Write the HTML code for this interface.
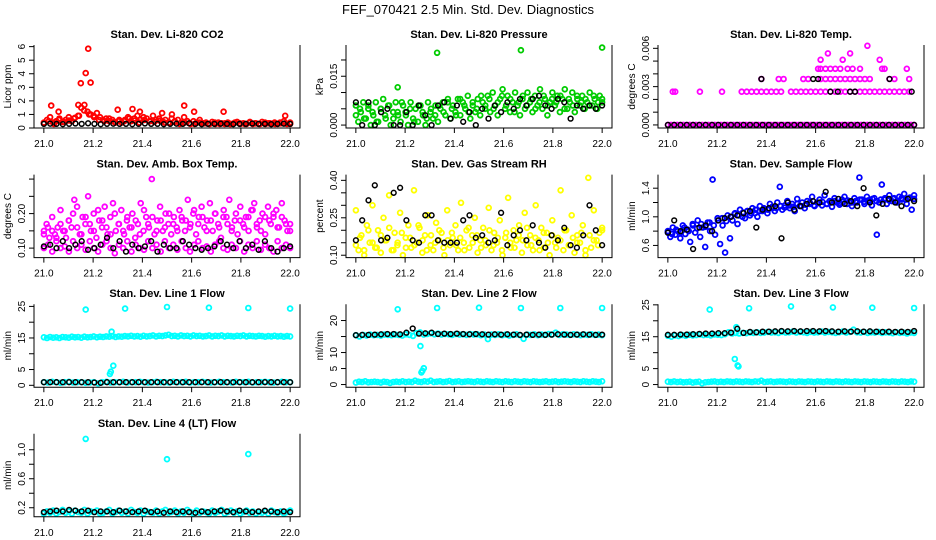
<!DOCTYPE html>
<html><head><meta charset="utf-8">
<style>
html,body{margin:0;padding:0;background:#fff;}
svg{display:block;font-family:"Liberation Sans",sans-serif;}
</style></head>
<body>
<svg id="chart" width="936" height="540" viewBox="0 0 936 540" xmlns="http://www.w3.org/2000/svg">
<text x="468" y="14" font-size="13" text-anchor="middle">FEF_070421  2.5 Min. Std. Dev. Diagnostics</text>
</svg>
<script>
// ---------- data ----------
const xTicks = [21.0,21.2,21.4,21.6,21.8,22.0];
const xTickLabels = ["21.0","21.2","21.4","21.6","21.8","22.0"];

const co2Red = [0.35,0.6,0.8,0.4,0.5,0.7,0.45,0.6,0.8,0.5,0.75,0.9,1.5,1.7,1.2,1.0,0.9,1.1,0.8,0.6,0.7,0.5,0.6,0.4,0.5,0.4,0.6,0.8,0.5,0.7,0.9,0.6,0.8,0.7,0.5,0.9,0.6,0.7,0.5,0.6,0.4,0.7,0.5,0.6,0.4,0.8,0.5,0.3,0.5,0.4,0.6,0.35,0.4,0.3,0.45,0.3,0.4,0.35,0.3,0.4,0.3,0.35,0.45,0.3,0.35,0.3,0.4,0.3,0.35,0.3,0.45,0.3,0.35,0.3,0.4,0.3,0.35,0.5,0.3,0.4];
const co2Red2 = [0.4,0.5,0.3,0.6,0.45,0.55,0.7,0.9,1.3,1.0,0.8,0.6,0.5,0.7,0.45,0.6,0.5,0.7,0.55,0.4,0.6,0.5,0.45,0.55,0.4,0.35,0.45,0.3,0.4,0.35,0.3,0.4,0.35,0.3,0.4,0.3,0.35,0.3,0.4,0.35,0.3,0.45,0.35,0.3,0.4,0.35,0.3,0.4,0.35,0.3];
const co2Black = [0.3,0.32,0.3,0.28,0.3,0.33,0.3,0.35,0.3,0.28,0.3,0.32,0.3,0.3,0.28,0.3,0.33,0.3,0.3,0.28,0.3,0.32,0.3,0.35,0.3,0.28,0.3,0.3,0.32,0.3,0.28,0.3,0.3,0.33,0.3,0.3,0.28,0.3,0.32,0.3];
const co2OutX = [21.03,21.06,21.14,21.15,21.17,21.18,21.19,21.30,21.36,21.39,21.48,21.52,21.57,21.61,21.73,21.98];
const co2OutY = [1.65,1.2,1.7,3.3,4.05,5.85,3.35,1.35,1.4,1.2,1.1,1.0,1.65,1.2,1.2,0.9];
const co2Ticks = [0,1,2,3,4,5,6];
const co2Labels = ["0","1","2","3","4","5","6"];

const presGreen = [0.006,0.001,0.004,0.007,0.002,0.005,0.000,0.003,0.007,0.001,0.005,0.008,0.002,0.006,0.000,0.004,0.007,0.003,0.001,0.006,0.004,0.000,0.007,0.002,0.005,0.001,0.006,0.003,0.000,0.007,0.004,0.002,0.006,0.001,0.005,0.007,0.003,0.008,0.002,0.006,0.004,0.008,0.003,0.007,0.005,0.009,0.002,0.006,0.004,0.008,0.003,0.007,0.005,0.009,0.004,0.010,0.006,0.003,0.008,0.011,0.005,0.009,0.004,0.007,0.010,0.006,0.003,0.008,0.005,0.010,0.007,0.004,0.009,0.006,0.011,0.005,0.008,0.003,0.007,0.010,0.006,0.009,0.004,0.008,0.011,0.005,0.007,0.010,0.004,0.008,0.006,0.009,0.005,0.007,0.010,0.006,0.008,0.005,0.009,0.007];
const presGreen2 = [0.003,0.005,0.002,0.006,0.004,0.001,0.005,0.003,0.006,0.002,0.004,0.007,0.003,0.005,0.001,0.006,0.004,0.002,0.005,0.003,0.006,0.004,0.007,0.005,0.003,0.008,0.006,0.004,0.007,0.005,0.009,0.006,0.008,0.005,0.007,0.009,0.006,0.008,0.004,0.007,0.009,0.006,0.008,0.005,0.007,0.009,0.006,0.008,0.007,0.009,0.005,0.008,0.006,0.009,0.007,0.008,0.006,0.009,0.007,0.008];
const presBlack = [0.007,0.000,0.007,0.000,0.004,0.005,0.000,0.000,0.004,0.000,0.006,0.003,0.000,0.006,0.007,0.002,0.006,0.001,0.004,0.000,0.005,0.002,0.006,0.004,0.007,0.005,0.008,0.006,0.008,0.009,0.006,0.005,0.008,0.007,0.002,0.006,0.005,0.006,0.005,0.006];
const presOutX = [21.17,21.33,21.67,22.0];
const presOutY = [0.0116,0.0222,0.023,0.0238];
const presTicks = [0,0.005,0.01,0.015,0.02];
const presLabels = ["0.000","","","0.015",""];

const tempPinkBase = [0,0,0,0,0,0,0,0,0,0,0,0,0,0,0,0,0,0,0,0,0,0,0,0,0,0,0,0,0,0,0,0,0,0,0,0,0,0,0,0,0,0,0,0,0,0,0,0,0,0,0,0,0,0,0,0,0,0,0,0,0,0,0,0,0,0,0,0,0,0,0,0,0,0,0,0,0,0,0,0];
const tempUpX = [21.02,21.03,21.13,21.22,21.30,21.32,21.34,21.36,21.38,21.40,21.42,21.44,21.46,21.50,21.52,21.54,21.56,21.58,21.60,21.62,21.64,21.66,21.68,21.70,21.72,21.74,21.76,21.78,21.80,21.82,21.84,21.86,21.88,21.90,21.92,21.94,21.96,21.98,
 21.38,21.45,21.47,21.55,21.57,21.62,21.64,21.66,21.68,21.70,21.72,21.74,21.76,21.78,21.80,21.82,21.90,21.92,21.98,
 21.61,21.62,21.64,21.66,21.68,21.70,21.73,21.75,21.78,21.87,21.88,21.97,
 21.62,21.71,21.86,21.65,21.74,21.81];
const tempUpY = [0.0026,0.0026,0.0026,0.0026,0.0026,0.0026,0.0026,0.0026,0.0026,0.0026,0.0026,0.0026,0.0026,0.0026,0.0026,0.0026,0.0026,0.0026,0.0026,0.0026,0.0026,0.0026,0.0026,0.0026,0.0026,0.0026,0.0026,0.0026,0.0026,0.0026,0.0026,0.0026,0.0026,0.0026,0.0026,0.0026,0.0026,0.0026,
 0.0036,0.0036,0.0036,0.0036,0.0036,0.0036,0.0036,0.0036,0.0036,0.0036,0.0036,0.0036,0.0036,0.0036,0.0036,0.0036,0.0036,0.0036,0.0036,
 0.0044,0.0044,0.0044,0.0044,0.0044,0.0044,0.0044,0.0044,0.0044,0.0044,0.0044,0.0044,
 0.0051,0.0051,0.0051,0.0056,0.0056,0.0062];
const tempBlackBase = [0,0,0,0,0,0,0,0,0,0,0,0,0,0,0,0,0,0,0,0,0,0,0,0,0,0,0,0,0,0,0,0,0,0,0,0,0,0,0,0];
const tempBlackUpX = [21.38,21.59,21.61,21.90,21.66,21.69,21.74,21.76,21.99];
const tempBlackUpY = [0.0036,0.0036,0.0036,0.0036,0.0026,0.0026,0.0026,0.0026,0.0026];
const tempTicks = [0,0.001,0.002,0.003,0.004,0.005,0.006];
const tempLabels = ["0.000","","","0.003","","","0.006"];

const ambPinkHi = [0.15,0.17,0.13,0.19,0.14,0.16,0.21,0.15,0.13,0.18,0.16,0.24,0.22,0.14,0.19,0.17,0.25,0.15,0.20,0.13,0.18,0.16,0.22,0.14,0.19,0.23,0.15,0.17,0.21,0.14,0.18,0.16,0.20,0.13,0.17,0.23,0.15,0.19,0.16,0.30,0.14,0.18,0.22,0.15,0.20,0.17,0.14,0.19,0.16,0.21,0.18,0.15,0.24,0.17,0.20,0.14,0.19,0.22,0.16,0.18,0.23,0.15,0.20,0.17,0.13,0.21,0.19,0.24,0.16,0.18,0.14,0.22,0.17,0.19,0.15,0.21,0.23,0.16,0.18,0.20,0.14,0.22,0.17,0.19,0.21,0.16,0.23,0.18,0.15,0.17];
const ambPinkHi2 = [0.14,0.16,0.15,0.13,0.17,0.15,0.18,0.20,0.16,0.14,0.19,0.17,0.15,0.21,0.18,0.16,0.14,0.20,0.17,0.15,0.19,0.16,0.18,0.14,0.21,0.17,0.19,0.15,0.18,0.16,0.20,0.17,0.15,0.19,0.18,0.16,0.21,0.17,0.19,0.15,0.18,0.20,0.16,0.19,0.17,0.15,0.20,0.18,0.16,0.19,0.21,0.17,0.15,0.19,0.18,0.20,0.16,0.19,0.17,0.15];
const ambPinkLo = [0.10,0.11,0.09,0.12,0.10,0.105,0.09,0.12,0.10,0.11,0.095,0.12,0.10,0.09,0.11,0.12,0.10,0.085,0.11,0.10,0.12,0.09,0.11,0.10,0.095,0.12,0.10,0.11,0.09,0.12,0.10,0.11,0.095,0.12,0.10,0.09,0.11,0.12,0.10,0.105,0.09,0.11,0.12,0.10,0.095,0.11,0.10,0.12,0.09,0.11,0.10,0.12,0.095,0.11,0.10,0.09,0.12,0.10,0.11,0.10];
const ambBlack = [0.105,0.11,0.10,0.12,0.10,0.11,0.12,0.095,0.10,0.11,0.13,0.10,0.12,0.09,0.11,0.10,0.105,0.12,0.09,0.11,0.10,0.10,0.12,0.11,0.10,0.095,0.10,0.105,0.12,0.11,0.10,0.12,0.10,0.11,0.095,0.12,0.10,0.09,0.10,0.105];
const ambTicks = [0.10,0.15,0.20,0.25,0.30];
const ambLabels = ["0.10","","0.20","",""];

const rhYellow = [0.28,0.12,0.18,0.10,0.22,0.15,0.30,0.13,0.20,0.11,0.25,0.16,0.34,0.12,0.19,0.14,0.27,0.10,0.17,0.22,0.13,0.36,0.15,0.21,0.11,0.18,0.26,0.14,0.12,0.23,0.16,0.19,0.10,0.28,0.14,0.17,0.22,0.12,0.31,0.15,0.20,0.13,0.18,0.25,0.11,0.16,0.21,0.14,0.29,0.12,0.19,0.15,0.24,0.10,0.17,0.33,0.13,0.20,0.16,0.22,0.11,0.27,0.14,0.18,0.12,0.30,0.16,0.21,0.13,0.19,0.10,0.24,0.15,0.17,0.36,0.12,0.20,0.14,0.26,0.11,0.18,0.15,0.22,0.10,0.41,0.13,0.28,0.16,0.19,0.21];
const rhYellow2 = [0.14,0.17,0.12,0.20,0.15,0.13,0.18,0.16,0.21,0.12,0.15,0.19,0.13,0.17,0.14,0.22,0.16,0.12,0.18,0.15,0.20,0.13,0.16,0.19,0.14,0.17,0.12,0.21,0.15,0.18,0.13,0.16,0.20,0.14,0.17,0.12,0.19,0.15,0.13,0.18,0.16,0.21,0.14,0.17,0.12,0.19,0.15,0.18,0.13,0.16,0.20,0.14,0.17,0.15,0.19,0.12,0.18,0.16,0.14,0.20];
const rhBlack = [0.16,0.24,0.32,0.38,0.16,0.17,0.35,0.37,0.24,0.16,0.15,0.26,0.26,0.16,0.15,0.15,0.15,0.24,0.26,0.17,0.18,0.15,0.16,0.27,0.14,0.18,0.20,0.16,0.22,0.15,0.13,0.18,0.16,0.21,0.14,0.13,0.18,0.30,0.20,0.14];
const rhTicks = [0.10,0.15,0.20,0.25,0.30,0.35,0.40];
const rhLabels = ["0.10","","","0.25","","","0.40"];

const flowBlue = [0.78,0.72,0.85,0.75,0.80,0.70,0.88,0.76,0.82,0.65,0.90,0.78,0.95,0.72,0.85,0.58,0.92,0.80,1.52,0.75,0.98,0.62,0.88,0.50,1.02,0.70,0.95,1.05,0.90,1.10,1.00,0.98,1.08,1.02,1.12,1.05,1.00,1.15,1.08,1.10,1.05,1.18,1.12,1.08,1.20,1.42,1.10,1.16,1.22,1.12,1.18,1.08,1.25,1.15,1.20,1.12,1.22,1.18,1.28,1.15,1.20,1.24,1.16,1.30,1.18,1.22,1.14,1.26,1.20,1.17,1.24,1.28,1.18,1.22,1.15,1.26,1.20,1.55,1.24,1.18,1.28,1.22,1.16,1.26,0.75,1.20,1.45,1.24,1.18,1.30,1.22,1.26,1.20,1.28,1.24,1.32,1.18,1.26,1.10,1.30];
const flowBlue2 = [0.80,0.76,0.82,0.78,0.85,0.80,0.88,0.84,0.90,0.86,0.92,0.88,0.95,0.98,0.94,1.00,1.04,1.02,1.06,1.08,1.05,1.10,1.08,1.12,1.10,1.14,1.12,1.15,1.13,1.16,1.14,1.18,1.15,1.17,1.20,1.16,1.19,1.21,1.18,1.20,1.22,1.19,1.21,1.23,1.20,1.22,1.24,1.21,1.23,1.25,1.22,1.24,1.26,1.23,1.25,1.22,1.26,1.24,1.27,1.25];
const flowBlack = [0.78,0.95,0.80,0.82,0.55,0.85,0.88,0.80,0.95,0.98,1.00,1.02,1.05,1.08,0.85,1.10,1.12,1.15,0.70,1.20,1.10,1.15,1.18,1.22,1.20,1.35,1.20,1.25,1.18,1.22,1.15,1.40,1.20,1.02,1.18,1.25,1.20,1.15,1.25,1.22];
const flowTicks = [0.6,0.8,1.0,1.2,1.4];
const flowLabels = ["0.6","","1.0","","1.4"];

const line1Hi = [15.2,15.0,15.3,15.1,15.2,15.0,15.3,15.2,15.1,15.4,15.2,15.3,15.1,15.4,15.2,15.3,15.5,15.2,15.4,15.3,15.5,15.4,15.6,15.3,15.5,15.4,15.6,15.5,15.7,15.5,15.6,15.4,15.7,15.5,15.6,15.8,15.5,15.7,15.6,15.8,16.0,15.6,15.7,15.5,15.8,15.6,15.7,15.5,15.8,15.6,15.7,15.5,15.6,15.8,15.5,15.7,15.6,15.8,15.5,15.7,15.6,15.5,15.7,15.6,15.8,15.5,15.7,15.6,15.5,15.7,15.6,15.4,15.6,15.5,15.7,15.5,15.6,15.4,15.6,15.5];
const line1Lo = [1.0,0.9,1.1,1.0,0.8,1.0,1.1,0.9,1.0,1.0,0.8,0.9,1.0,0.6,1.0,1.1,0.9,1.0,1.0,1.1,0.9,1.0,1.0,1.1,1.0,0.9,1.0,1.1,1.0,1.0,0.9,1.1,1.0,1.0,1.1,0.9,1.0,1.0,1.1,1.0,0.9,1.0,1.1,1.0,1.0,0.9,1.1,1.0,1.0,1.1,0.9,1.0,1.0,1.1,1.0,0.9,1.0,1.1,1.0,1.0];
const line1Black = [1.0,1.0,1.0,1.0,1.0,1.0,1.0,1.0,0.9,0.8,1.0,1.0,1.0,1.0,1.0,1.0,1.0,1.0,1.0,1.0,1.0,1.0,1.0,1.0,1.0,1.0,1.0,1.0,1.0,1.0,1.0,1.0,1.0,1.0,1.0,1.0,1.0,1.0,1.0,1.0];
const line1OutX = [21.17,21.33,21.50,21.67,21.83,22.0,21.268,21.272,21.282,21.275];
const line1OutY = [24.0,24.3,24.8,24.6,24.5,24.3,3.6,4.3,6.2,17.0];
const line1Ticks = [0,5,10,15,20,25];
const line1Labels = ["0","5","","15","","25"];

const line2Hi = [15.4,15.0,15.5,15.3,15.6,15.4,15.5,15.3,15.6,15.5,15.4,15.6,15.5,15.3,15.7,15.5,15.2,16.0,16.3,15.6,15.8,16.0,15.7,15.9,15.6,15.8,15.7,15.5,15.8,15.6,15.7,15.5,15.8,15.6,15.7,15.4,15.6,14.2,15.6,15.5,15.7,15.4,15.6,15.3,15.5,15.7,15.4,14.3,15.6,15.5,15.7,15.4,15.6,15.5,15.8,15.6,16.2,15.5,15.7,15.6,15.5,15.7,15.6,15.4,15.6,15.5,15.7,15.5,15.6,15.4];
const line2Lo = [0.6,0.9,0.8,1.0,0.7,0.8,0.9,0.8,0.6,0.9,0.8,0.5,0.8,0.9,0.8,1.0,0.8,0.9,0.8,1.2,0.9,0.8,1.0,0.9,1.2,0.8,0.9,1.0,0.8,0.9,1.1,0.8,0.9,1.0,0.8,0.9,1.0,0.9,0.8,1.0,0.9,0.8,1.0,0.9,0.8,1.0,0.9,0.8,1.0,0.9,0.8,1.0,0.9,0.8,1.0,0.9,0.8,1.0,0.9,0.8,0.9,1.0,0.8,0.9,1.0,0.8,0.9,1.0,0.9,0.8,1.0,0.9,0.8,1.0,0.9,0.8,1.0,0.9,0.8,1.0];
const line2Black = [15.4,15.5,15.5,15.6,15.7,15.8,15.8,15.7,16.2,17.5,15.9,16.0,16.2,15.8,15.9,15.8,15.9,15.8,15.7,15.8,15.7,15.6,15.7,15.6,15.7,15.6,15.5,15.6,15.5,15.6,15.5,15.6,15.7,15.6,15.5,15.6,15.7,15.6,15.5,15.6];
const line2OutX = [21.17,21.33,21.50,21.67,21.83,22.0,21.262,21.266,21.270,21.276];
const line2OutY = [23.5,23.9,24.0,23.9,23.9,23.9,12.0,3.8,4.3,5.1];
const line2Ticks = [0,5,10,15,20];
const line2Labels = ["0","5","10","","20"];

const line3Hi = [15.3,15.0,15.4,15.2,15.5,15.3,15.6,15.4,15.5,15.7,15.5,15.6,15.4,15.7,15.6,15.5,15.8,16.4,16.0,16.2,16.0,16.2,16.1,16.3,16.2,16.4,16.2,16.3,16.5,16.3,16.4,16.2,16.5,16.3,16.4,16.6,16.3,16.5,16.4,16.2,16.5,16.3,16.4,16.6,16.3,16.5,16.4,16.2,16.4,16.6,16.3,16.5,17.2,16.4,16.3,16.5,16.2,16.4,16.3,16.5,16.2,16.4,16.3,16.1,16.4,16.2,16.3,16.0,16.3,16.2];
const line3Lo = [0.9,0.8,1.0,0.8,0.9,0.7,0.8,0.9,0.6,0.8,0.9,0.4,0.7,0.8,0.9,1.0,0.8,0.9,0.8,1.0,0.9,0.8,1.0,0.9,0.8,1.0,0.9,0.8,1.0,0.9,1.2,0.8,0.9,1.0,0.8,0.9,1.0,0.9,0.8,1.0,0.9,0.8,1.0,0.9,0.8,1.0,0.9,0.8,1.0,0.9,0.8,1.0,0.9,0.8,1.0,0.9,0.8,1.0,0.9,0.8,1.0,0.9,0.8,1.0,0.9,0.8,1.0,0.9,0.8,1.0,0.9,0.8,1.0,0.9,0.8,1.0,0.9,0.8,1.0,0.9];
const line3Black = [15.6,15.6,15.7,15.7,15.8,15.9,16.0,16.0,16.1,16.1,16.3,17.5,16.2,16.5,16.4,16.6,16.6,16.7,16.8,16.7,16.8,16.7,16.8,16.8,16.7,16.8,16.7,16.6,16.7,16.6,16.7,16.6,16.7,16.6,16.5,16.6,16.5,16.6,16.5,16.8];
const line3OutX = [21.17,21.33,21.50,21.67,21.83,22.0,21.272,21.283,21.287,21.278];
const line3OutY = [23.5,23.9,24.5,24.2,24.1,24.0,8.0,6.0,5.7,18.0];
const line3Ticks = [0,5,10,15,20,25];
const line3Labels = ["0","5","","15","","25"];

const line4Cyan = [0.12,0.15,0.13,0.16,0.12,0.14,0.17,0.13,0.15,0.12,0.16,0.14,0.13,0.17,0.12,0.15,0.14,0.16,0.12,0.13,0.15,0.17,0.12,0.14,0.16,0.13,0.15,0.12,0.17,0.14,0.13,0.16,0.12,0.15,0.14,0.13,0.16,0.12,0.15,0.17,0.13,0.14,0.16,0.12,0.15,0.13,0.17,0.14,0.12,0.16,0.13,0.15,0.14,0.12,0.16,0.13,0.15,0.17,0.12,0.14,0.16,0.13,0.15,0.12,0.14,0.16,0.13,0.15,0.12,0.14,0.13,0.15,0.12,0.16,0.14,0.13,0.15,0.12,0.14,0.16];
const line4Black = [0.14,0.15,0.16,0.15,0.17,0.16,0.15,0.16,0.14,0.15,0.15,0.14,0.16,0.15,0.14,0.15,0.16,0.14,0.15,0.13,0.15,0.14,0.15,0.14,0.13,0.15,0.14,0.15,0.16,0.15,0.14,0.16,0.15,0.14,0.15,0.16,0.15,0.14,0.15,0.14];
const line4OutX = [21.17,21.50,21.83];
const line4OutY = [1.15,0.87,0.94];
const line4Ticks = [0.2,0.4,0.6,0.8,1.0];
const line4Labels = ["0.2","","0.6","","1.0"];

// ---------- layout / panel config ----------
const panels = [
 {name:"co2",title:"Stan. Dev. Li-820 CO2",ylab:"Licor ppm",row:0,col:0,y0:0,y1:6.12,ticks:co2Ticks,labels:co2Labels,
  series:[{y:co2Red,c:"#ff0000"},{y:co2Red2,c:"#ff0000"},{x:co2OutX,y:co2OutY,c:"#ff0000"},{y:co2Black,c:"#000"}]},
 {name:"pressure",title:"Stan. Dev. Li-820 Pressure",ylab:"kPa",row:0,col:1,y0:-0.0009,y1:0.0246,ticks:presTicks,labels:presLabels,
  series:[{y:presGreen,c:"#00cc00"},{y:presGreen2,c:"#00cc00"},{x:presOutX,y:presOutY,c:"#00cc00"},{y:presBlack,c:"#000"}]},
 {name:"temp",title:"Stan. Dev. Li-820 Temp.",ylab:"degrees C",row:0,col:2,y0:-0.00024,y1:0.00626,ticks:tempTicks,labels:tempLabels,
  series:[{y:tempPinkBase,c:"#ff00ff"},{x:tempUpX,y:tempUpY,c:"#ff00ff"},{y:tempBlackBase,c:"#000"},{x:tempBlackUpX,y:tempBlackUpY,c:"#000"}]},
 {name:"amb-box-temp",title:"Stan. Dev. Amb. Box Temp.",ylab:"degrees C",row:1,col:0,y0:0.0725,y1:0.313,ticks:ambTicks,labels:ambLabels,
  series:[{y:ambPinkHi,c:"#ff00ff"},{y:ambPinkHi2,c:"#ff00ff"},{y:ambPinkLo,c:"#ff00ff"},{y:ambBlack,c:"#000"}]},
 {name:"gas-stream-rh",title:"Stan. Dev. Gas Stream RH",ylab:"percent",row:1,col:1,y0:0.0905,y1:0.423,ticks:rhTicks,labels:rhLabels,
  series:[{y:rhYellow,c:"#ffff00"},{y:rhYellow2,c:"#ffff00"},{y:rhBlack,c:"#000"}]},
 {name:"sample-flow",title:"Stan. Dev. Sample Flow",ylab:"ml/min",row:1,col:2,y0:0.43,y1:1.59,ticks:flowTicks,labels:flowLabels,
  series:[{y:flowBlue,c:"#0000ff"},{y:flowBlue2,c:"#0000ff"},{y:flowBlack,c:"#000"}]},
 {name:"line1-flow",title:"Stan. Dev. Line 1 Flow",ylab:"ml/min",row:2,col:0,y0:-0.6,y1:25.7,ticks:line1Ticks,labels:line1Labels,
  series:[{y:line1Hi,c:"#00ffff"},{y:line1Lo,c:"#00ffff"},{x:line1OutX,y:line1OutY,c:"#00ffff"},{y:line1Black,c:"#000"}]},
 {name:"line2-flow",title:"Stan. Dev. Line 2 Flow",ylab:"ml/min",row:2,col:1,y0:-0.83,y1:25.1,ticks:line2Ticks,labels:line2Labels,
  series:[{y:line2Hi,c:"#00ffff"},{y:line2Lo,c:"#00ffff"},{x:line2OutX,y:line2OutY,c:"#00ffff"},{y:line2Black,c:"#000"}]},
 {name:"line3-flow",title:"Stan. Dev. Line 3 Flow",ylab:"ml/min",row:2,col:2,y0:-0.83,y1:25.2,ticks:line3Ticks,labels:line3Labels,
  series:[{y:line3Hi,c:"#00ffff"},{y:line3Lo,c:"#00ffff"},{x:line3OutX,y:line3OutY,c:"#00ffff"},{y:line3Black,c:"#000"}]},
 {name:"line4-flow",title:"Stan. Dev. Line 4 (LT) Flow",ylab:"ml/min",row:3,col:0,y0:0.075,y1:1.22,ticks:line4Ticks,labels:line4Labels,
  series:[{y:line4Cyan,c:"#00ffff"},{x:line4OutX,y:line4OutY,c:"#00ffff"},{y:line4Black,c:"#000"}]}
];

const NS = "http://www.w3.org/2000/svg";
const svg = document.getElementById("chart");
function mk(tag, attrs, parent){
  const e = document.createElementNS(NS, tag);
  for (const k in attrs) e.setAttribute(k, attrs[k]);
  parent.appendChild(e);
  return e;
}

panels.forEach(p => {
  const L = 34 + p.col*312, R = L + 266;
  const T = 45 + p.row*129.6, B = T + 83;
  const xs = v => L + (v - 20.96) / 1.08 * (R - L);
  const ys = v => B - (v - p.y0) / (p.y1 - p.y0) * (B - T);

  const g = mk("g", {}, svg);
  
  

  const title = mk("text", {x:(L+R)/2, y:T-7, "font-size":"11", "font-weight":"bold", "text-anchor":"middle"}, g);
  title.textContent = p.title;
  
  

  const pts = mk("g", {fill:"none"}, g);
  
  
  p.series.forEach(s => {
    const n = s.y.length;
    const black = s.c === "#000";
    for (let i = 0; i < n; i++) {
      const xv = s.x ? s.x[i] : 21 + (n > 1 ? i/(n-1) : 0);
      const c = mk("circle", {cx:xs(xv).toFixed(1), cy:ys(s.y[i]).toFixed(1), r:"2.4", stroke:s.c, "stroke-width": black ? "1.5" : "1.8"}, pts);
      
      
    }
  });

  const box = mk("path", {d:`M${L},${T} L${L},${B} L${R},${B} L${R},${T}`, fill:"none", stroke:"#000", "stroke-width":"1"}, g);
  
  

  const xa = mk("g", {}, g);
  
  
  xTicks.forEach((t,i) => {
    const x = xs(t);
    mk("line", {x1:x, y1:B, x2:x, y2:B+5, stroke:"#000"}, xa);
    const tx = mk("text", {x:x, y:B+19, "font-size":"10", "text-anchor":"middle"}, xa);
    tx.textContent = xTickLabels[i];
    
    
  });

  const ya = mk("g", {}, g);
  
  
  p.ticks.forEach((t,i) => {
    const y = ys(t);
    mk("line", {x1:L-5, y1:y, x2:L, y2:y, stroke:"#000"}, ya);
    if (p.labels[i]) {
      const tx = mk("text", {x:0, y:0, "font-size":"10", "text-anchor":"middle", transform:`translate(${L-9},${y}) rotate(-90)`}, ya);
      tx.textContent = p.labels[i];
      
      
    }
  });
  const yl = mk("text", {x:0, y:0, "font-size":"10", "text-anchor":"middle", transform:`translate(${L-23},${(T+B)/2}) rotate(-90)`}, g);
  yl.textContent = p.ylab;
  
  
});
</script>
</body></html>
